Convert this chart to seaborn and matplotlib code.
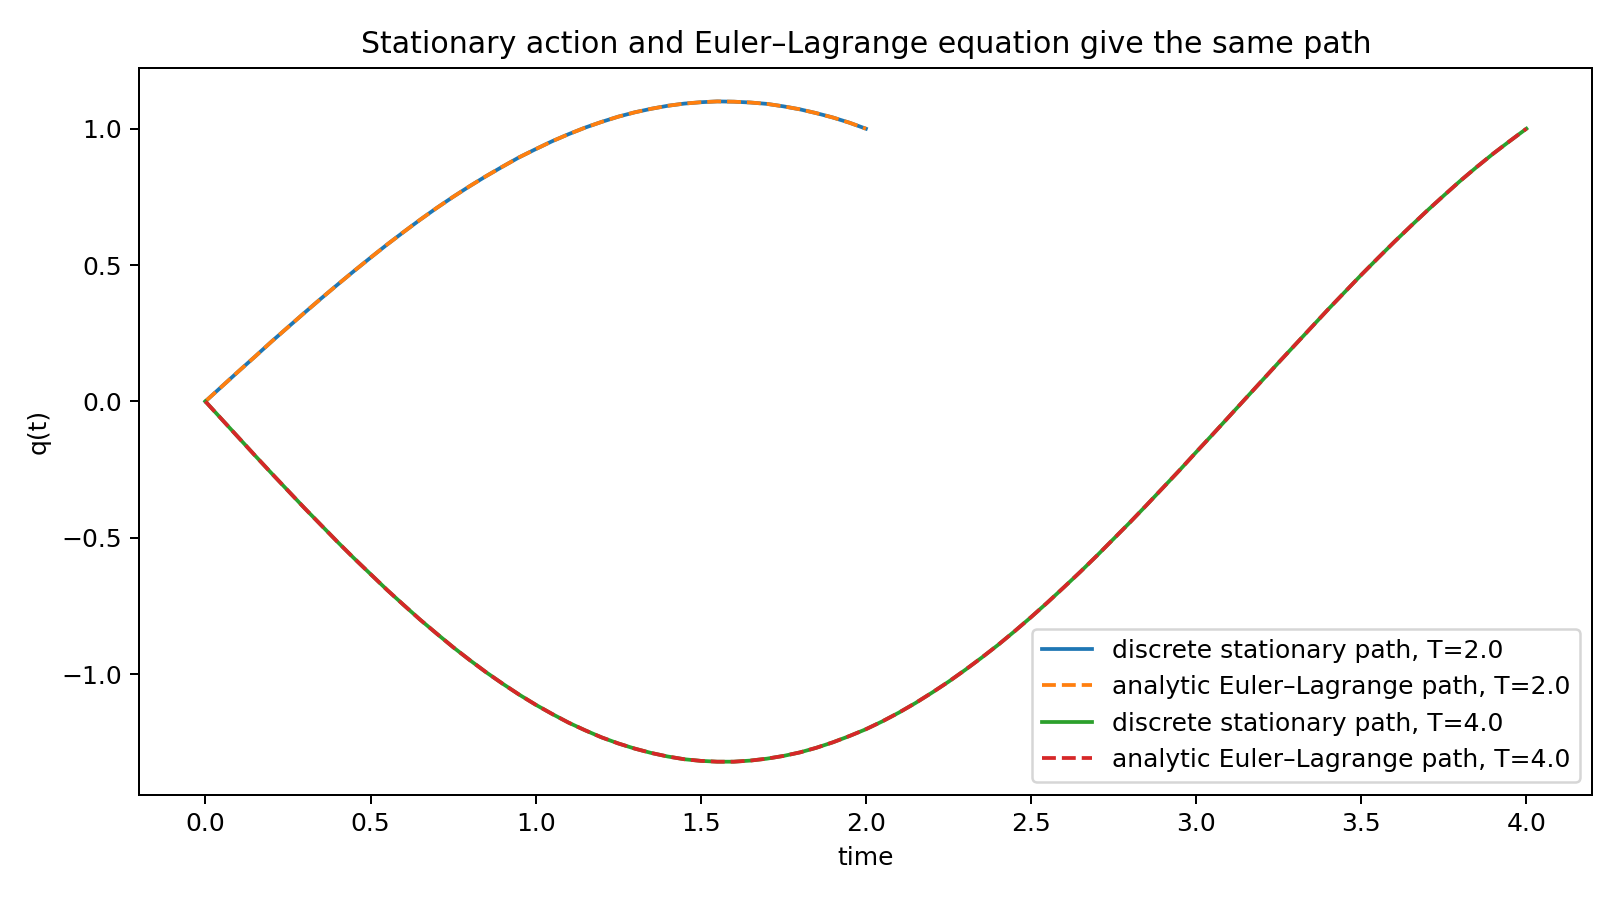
import numpy as np
import matplotlib
matplotlib.use("Agg")
import matplotlib.pyplot as plt
import seaborn as sns

# values
t_short = [0.0, 0.05, 0.1, 0.15, 0.2, 0.25, 0.3, 0.35, 0.4, 0.45, 0.5,
           0.55, 0.6, 0.65, 0.7, 0.75, 0.8, 0.85, 0.9, 0.95, 1.0,
           1.05, 1.1, 1.15, 1.2, 1.25, 1.3, 1.35, 1.4, 1.45, 1.5,
           1.55, 1.6, 1.65, 1.7, 1.75, 1.8, 1.85, 1.9, 1.95, 2.0]
q_short = [0.0, 0.055, 0.110, 0.164, 0.219, 0.272, 0.325, 0.377, 0.428, 0.478, 0.527,
           0.575, 0.621, 0.666, 0.709, 0.750, 0.789, 0.826, 0.861, 0.895, 0.925,
           0.954, 0.980, 1.004, 1.025, 1.044, 1.060, 1.073, 1.084, 1.092, 1.097,
           1.100, 1.099, 1.096, 1.091, 1.082, 1.071, 1.057, 1.041, 1.022, 1.000]

t_long = [0.0, 0.05, 0.1, 0.15, 0.2, 0.25, 0.3, 0.35, 0.4, 0.45, 0.5,
          0.55, 0.6, 0.65, 0.7, 0.75, 0.8, 0.85, 0.9, 0.95, 1.0,
          1.05, 1.1, 1.15, 1.2, 1.25, 1.3, 1.35, 1.4, 1.45, 1.5,
          1.55, 1.6, 1.65, 1.7, 1.75, 1.8, 1.85, 1.9, 1.95, 2.0,
          2.05, 2.1, 2.15, 2.2, 2.25, 2.3, 2.35, 2.4, 2.45, 2.5,
          2.55, 2.6, 2.65, 2.7, 2.75, 2.8, 2.85, 2.9, 2.95, 3.0,
          3.05, 3.1, 3.15, 3.2, 3.25, 3.3, 3.35, 3.4, 3.45, 3.5,
          3.55, 3.6, 3.65, 3.7, 3.75, 3.8, 3.85, 3.9, 3.95, 4.0]
q_long = [0.0, -0.066, -0.132, -0.198, -0.263, -0.327, -0.391, -0.453, -0.515, -0.575, -0.633,
          -0.691, -0.746, -0.800, -0.851, -0.901, -0.948, -0.993, -1.035, -1.075, -1.112,
          -1.146, -1.178, -1.206, -1.232, -1.254, -1.273, -1.289, -1.302, -1.312, -1.318,
          -1.321, -1.321, -1.317, -1.310, -1.300, -1.287, -1.270, -1.250, -1.227, -1.202,
          -1.173, -1.141, -1.106, -1.068, -1.028, -0.985, -0.940, -0.893, -0.843, -0.791,
          -0.737, -0.681, -0.624, -0.565, -0.504, -0.443, -0.380, -0.316, -0.252, -0.186,
          -0.121, -0.055, 0.011, 0.077, 0.143, 0.208, 0.273, 0.338, 0.401, 0.464,
          0.525, 0.585, 0.643, 0.700, 0.755, 0.809, 0.860, 0.909, 0.955, 1.000]

series = [
    (t_short, q_short, "discrete stationary path, T=2.0", "#1f77b4", "-"),
    (t_short, q_short, "analytic Euler\u2013Lagrange path, T=2.0", "#ff7f0e", "--"),
    (t_long, q_long, "discrete stationary path, T=4.0", "#2ca02c", "-"),
    (t_long, q_long, "analytic Euler\u2013Lagrange path, T=4.0", "#d62728", "--"),
]

fig, ax = plt.subplots(figsize=(9, 5), dpi=180)

for t, q, label, color, ls in series:
    sns.lineplot(x=t, y=q, ax=ax, label=label, color=color, linestyle=ls,
                 linewidth=1.5, sort=False)

ax.set_title("Stationary action and Euler\u2013Lagrange equation give the same path")
ax.set_xlabel("time")
ax.set_ylabel("q(t)")
ax.set_xticks(np.arange(0, 4.01, 0.5))
ax.set_yticks([-1.0, -0.5, 0.0, 0.5, 1.0])
ax.legend(loc="lower right")

fig.subplots_adjust(left=0.086, right=0.983, top=0.924, bottom=0.117)
plt.savefig("out.png", dpi=180)
